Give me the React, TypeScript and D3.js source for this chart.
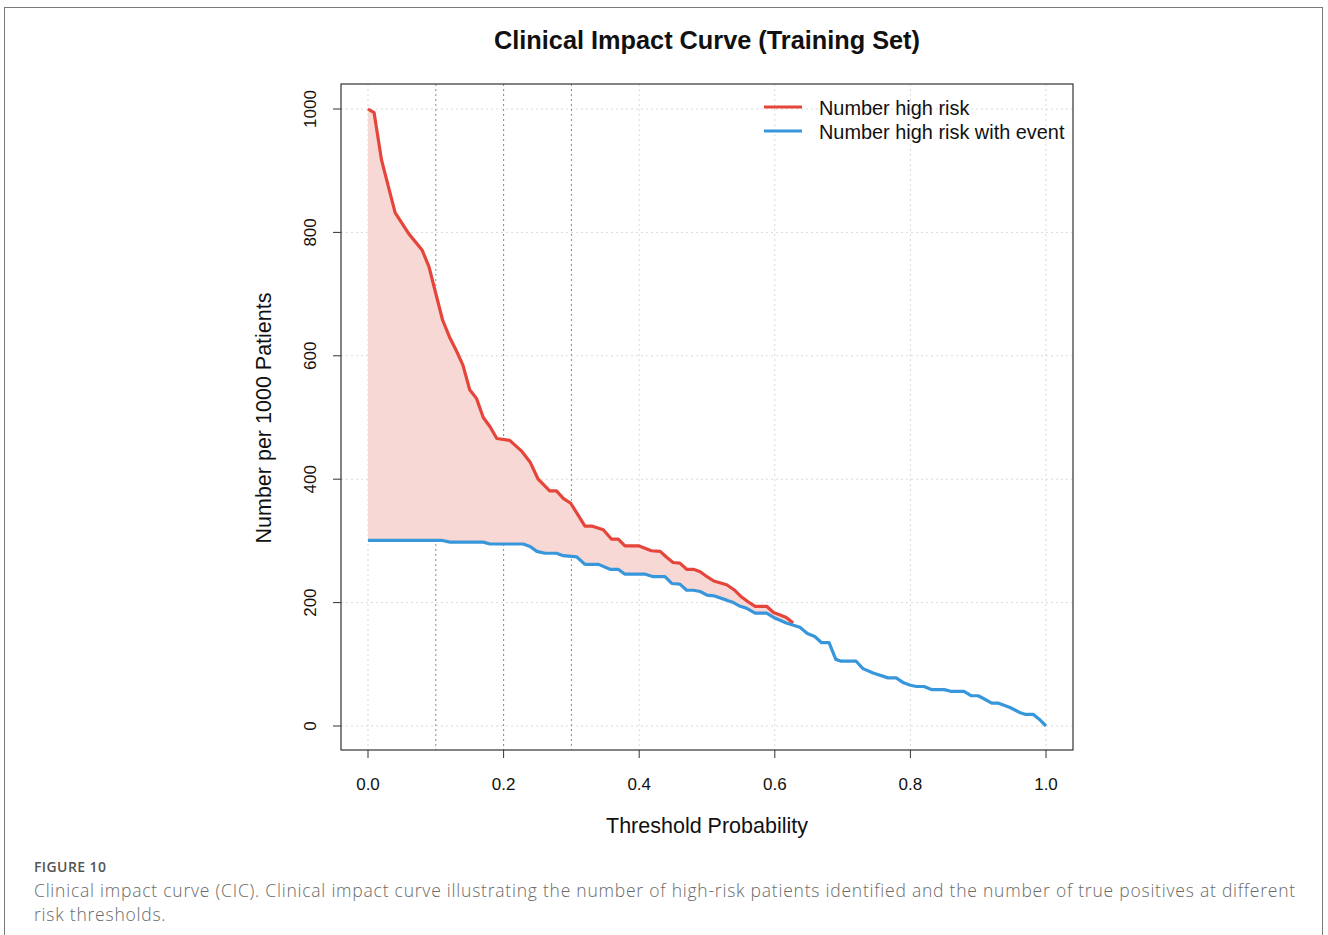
import React from "react";
import * as d3 from "d3";

const title = "Clinical Impact Curve (Training Set)";
const xLabel = "Threshold Probability";
const yLabel = "Number per 1000 Patients";
const xTicks = [0, 0.2, 0.4, 0.6, 0.8, 1.0];
const yTicks = [0, 200, 400, 600, 800, 1000];
const refLines = [0.1, 0.2, 0.3];
const seriesNames = ["Number high risk", "Number high risk with event"];

// Number high risk: [threshold, value]
const highRisk: [number, number][] = [
  [0, 1000], [0.009, 994], [0.02, 917], [0.04, 832], [0.06, 798], [0.08, 771],
  [0.09, 744], [0.1, 701], [0.11, 658], [0.12, 631], [0.13, 609], [0.14, 585],
  [0.15, 545], [0.16, 531], [0.17, 500], [0.18, 485], [0.19, 466], [0.209, 463],
  [0.227, 445], [0.239, 428], [0.251, 400], [0.268, 381], [0.278, 381],
  [0.288, 369], [0.299, 361], [0.32, 324], [0.33, 324], [0.347, 318],
  [0.359, 303], [0.369, 303], [0.379, 292], [0.399, 292], [0.418, 284],
  [0.431, 283], [0.44, 274], [0.45, 265], [0.46, 264], [0.47, 254], [0.48, 254],
  [0.49, 250], [0.5, 242], [0.51, 235], [0.529, 229], [0.541, 220], [0.551, 209],
  [0.561, 201], [0.571, 194], [0.588, 194], [0.598, 184], [0.608, 180],
  [0.617, 176], [0.627, 167],
];

// Number high risk with event: [threshold, value]
const highRiskEvent: [number, number][] = [
  [0, 301], [0.108, 301], [0.121, 298], [0.17, 298], [0.18, 295], [0.229, 295],
  [0.239, 291], [0.249, 283], [0.261, 280], [0.278, 280], [0.288, 276],
  [0.308, 274], [0.32, 262], [0.34, 262], [0.357, 254], [0.369, 254],
  [0.379, 246], [0.409, 246], [0.421, 242], [0.438, 242], [0.448, 231],
  [0.46, 230], [0.47, 220], [0.48, 220], [0.49, 218], [0.5, 212], [0.51, 211],
  [0.529, 204], [0.539, 200], [0.549, 194], [0.558, 191], [0.571, 183],
  [0.588, 183], [0.6, 175], [0.617, 167], [0.637, 160], [0.648, 150],
  [0.659, 145], [0.669, 135], [0.68, 135], [0.69, 108], [0.698, 105],
  [0.72, 105], [0.73, 93], [0.745, 86], [0.767, 78], [0.779, 78], [0.79, 70],
  [0.8, 66], [0.809, 64], [0.82, 64], [0.831, 59], [0.85, 59], [0.861, 56],
  [0.879, 56], [0.89, 49], [0.9, 49], [0.907, 45], [0.92, 37], [0.93, 37],
  [0.947, 30], [0.961, 22], [0.969, 19], [0.981, 19], [0.99, 11], [1.0, 0],
];

const captionHead = "FIGURE 10";
const captionLines = [
  "Clinical impact curve (CIC). Clinical impact curve illustrating the number of high-risk patients identified and the number of true positives at different",
  "risk thresholds.",
];

const RED = "#E5453A";
const BLUE = "#3896DB";
const FILL = "#F8D8D5";

export default function App() {
  const W = 1328, H = 935;
  const plot = { l: 341, t: 84, r: 1073, b: 750 };
  const x = d3.scaleLinear().domain([0, 1]).range([368, 1046]);
  const y = d3.scaleLinear().domain([0, 1000]).range([726, 109]);
  const line = d3.line<[number, number]>().x(d => x(d[0])).y(d => y(d[1]));
  const lastRed = highRisk[highRisk.length - 1][0];
  const bluePart = highRiskEvent.filter(d => d[0] <= lastRed + 1e-9);
  const poly = [...highRisk, ...bluePart.slice().reverse()];
  const areaPath = line(poly) + "Z";
  const font = "'Liberation Sans', Arial, sans-serif";

  return (
    <svg width={W} height={H} style={{ position: "absolute", left: 0, top: 0, background: "#fff" }}>
      <rect x={4.5} y={7.5} width={1318} height={940} fill="none" stroke="#7a7a7a" strokeWidth={1} />
      <text x={707} y={49} textAnchor="middle" fontFamily={font} fontWeight="bold" fontSize={25.3} fill="#111">{title}</text>
      {/* grid */}
      {xTicks.map(t => (
        <line key={"gx" + t} x1={x(t)} x2={x(t)} y1={plot.t} y2={plot.b} stroke="#d9d9d9" strokeDasharray="2,3" />
      ))}
      {yTicks.map(t => (
        <line key={"gy" + t} x1={plot.l} x2={plot.r} y1={y(t)} y2={y(t)} stroke="#d9d9d9" strokeDasharray="2,3" />
      ))}
      {refLines.map(t => (
        <line key={"r" + t} x1={x(t)} x2={x(t)} y1={plot.t} y2={plot.b} stroke="#8a8a8a" strokeDasharray="2,3" />
      ))}
      <path d={areaPath} fill={FILL} stroke="none" />
      <path d={line(highRisk) || ""} fill="none" stroke={RED} strokeWidth={3.2} strokeLinejoin="round" />
      <path d={line(highRiskEvent) || ""} fill="none" stroke={BLUE} strokeWidth={3.2} strokeLinejoin="round" />
      <rect x={plot.l} y={plot.t} width={plot.r - plot.l} height={plot.b - plot.t} fill="none" stroke="#333" strokeWidth={1.2} />
      {/* x axis */}
      {xTicks.map(t => (
        <g key={"xt" + t}>
          <line x1={x(t)} x2={x(t)} y1={plot.b} y2={plot.b + 8} stroke="#333" />
          <text x={x(t)} y={790} textAnchor="middle" fontFamily={font} fontSize={17} fill="#111">{t.toFixed(1)}</text>
        </g>
      ))}
      {yTicks.map(t => (
        <g key={"yt" + t}>
          <line x1={plot.l - 8} x2={plot.l} y1={y(t)} y2={y(t)} stroke="#333" />
          <text transform={`translate(316,${y(t)}) rotate(-90)`} textAnchor="middle" fontFamily={font} fontSize={17} fill="#111">{t}</text>
        </g>
      ))}
      <text x={707} y={833} textAnchor="middle" fontFamily={font} fontSize={21.5} fill="#111">{xLabel}</text>
      <text transform={`translate(271,418) rotate(-90)`} textAnchor="middle" fontFamily={font} fontSize={21.5} fill="#111">{yLabel}</text>
      {/* legend */}
      <line x1={764} x2={802} y1={107} y2={107} stroke={RED} strokeWidth={3.2} />
      <line x1={764} x2={802} y1={131} y2={131} stroke={BLUE} strokeWidth={3.2} />
      <text x={819} y={115} fontFamily={font} fontSize={19.9} fill="#111">{seriesNames[0]}</text>
      <text x={819} y={139} fontFamily={font} fontSize={19.9} fill="#111">{seriesNames[1]}</text>
      {/* caption */}
      <text x={34} y={872} fontFamily="'Open Sans', sans-serif" fontWeight={600} fontSize={14} letterSpacing={0.4} fill="#555">{captionHead}</text>
      {captionLines.map((s, i) => (
        <text key={i} x={34} y={897 + i * 24} fontFamily="'Open Sans', sans-serif" fontWeight={300} fontSize={17.5} letterSpacing={0.77} fill="#6a6a6a">{s}</text>
      ))}
    </svg>
  );
}
